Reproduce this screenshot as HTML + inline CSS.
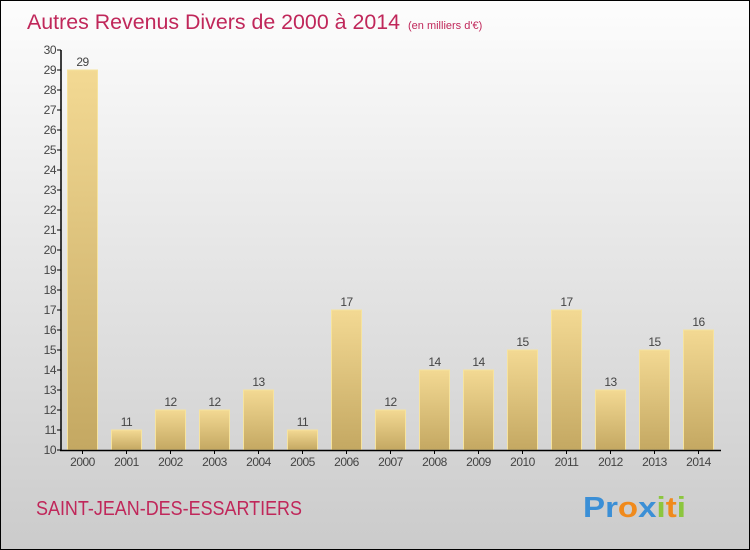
<!DOCTYPE html>
<html><head><meta charset="utf-8"><style>
body{margin:0}
#c{width:750px;height:550px;position:relative;overflow:hidden;font-family:"Liberation Sans",sans-serif}
</style></head><body>
<div id="c">
<svg width="750" height="550" xmlns="http://www.w3.org/2000/svg" id="svg">
<defs>
<linearGradient id="bg" x1="0" y1="0" x2="0" y2="1"><stop offset="0" stop-color="#fdfdfd"/><stop offset="1" stop-color="#cbcbcb"/></linearGradient>
<linearGradient id="bar" x1="0" y1="0" x2="0" y2="1"><stop offset="0" stop-color="#f3d993"/><stop offset="1" stop-color="#c4a862"/></linearGradient>
</defs>
<rect x="0.5" y="0.5" width="749" height="549" fill="url(#bg)" stroke="#000"/>
<text x="27" y="29" font-size="21" fill="#c0275a"><tspan textLength="373" lengthAdjust="spacingAndGlyphs">Autres Revenus Divers de 2000 à 2014</tspan><tspan font-size="11" dx="8">(en milliers d'€)</tspan></text>
<g id="plot"></g>
<text x="36" y="515" font-size="20" fill="#c0275a" textLength="266" lengthAdjust="spacingAndGlyphs">SAINT-JEAN-DES-ESSARTIERS</text>
<text x="583" y="517" font-size="29" font-weight="bold" textLength="103" lengthAdjust="spacingAndGlyphs"><tspan fill="#3b8fd6">Pr</tspan><tspan fill="#f08a1c">o</tspan><tspan fill="#3b8fd6">x</tspan><tspan fill="#8cc63e">i</tspan><tspan fill="#f08a1c">t</tspan><tspan fill="#8cc63e">i</tspan></text>
</svg>
</div>
<script>
const years=["2000","2001","2002","2003","2004","2005","2006","2007","2008","2009","2010","2011","2012","2013","2014"];
const values=[29,11,12,12,13,11,17,12,14,14,15,17,13,15,16];
const yTicks=[10,11,12,13,14,15,16,17,18,19,20,21,22,23,24,25,26,27,28,29,30];
const NS="http://www.w3.org/2000/svg";
const g=document.getElementById('plot');
const y=v=>450-(v-10)*20;
const x=i=>82.5+i*44;
function mk(t,a,txt){const e=document.createElementNS(NS,t);for(const k in a)e.setAttribute(k,a[k]);if(txt!==undefined)e.textContent=txt;g.appendChild(e);return e;}
yTicks.forEach(v=>{
  let l=mk('line',{x1:57,x2:61,y1:y(v),y2:y(v),stroke:'#000'});
  
  
  let t=mk('text',{x:56,y:y(v)+4,'font-size':12,fill:'#444','text-anchor':'end','letter-spacing':'-0.5'},v);
  
  
});
values.forEach((v,i)=>{
  let r=mk('rect',{x:x(i)-15,y:y(v),width:30,height:450-y(v),fill:'url(#bar)',stroke:'#f6e39e','stroke-width':1});
  
  
  let t=mk('text',{x:x(i),y:y(v)-4,'font-size':12,fill:'#444','text-anchor':'middle','letter-spacing':'-0.5'},v);
  
  
  let l=mk('line',{x1:x(i),x2:x(i),y1:450,y2:454,stroke:'#000'});
  
  
  let xl=mk('text',{x:x(i),y:466,'font-size':12,fill:'#444','text-anchor':'middle','letter-spacing':'-0.5'},years[i]);
  
  
});
let ya=mk('line',{x1:61,x2:61,y1:50,y2:451,stroke:'#000','stroke-width':1.5});


let xa=mk('line',{x1:60,x2:721,y1:450.5,y2:450.5,stroke:'#000','stroke-width':1.5});


</script>
</body></html>
